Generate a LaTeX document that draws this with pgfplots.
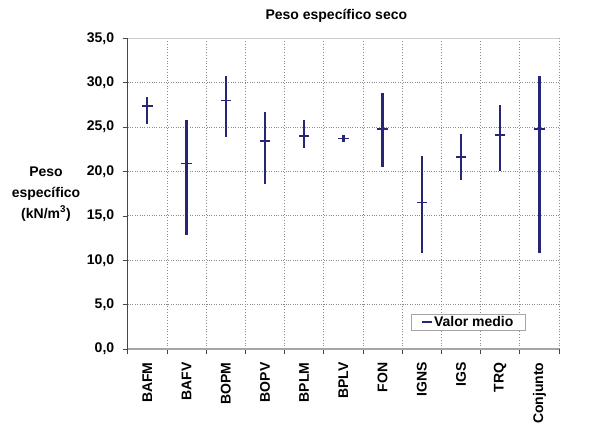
\documentclass[border=0pt]{standalone}
\usepackage{fontspec}
\setmainfont{Liberation Sans}
\usepackage{pgfplots}
\pgfplotsset{compat=1.18}
\usepackage{pgfplotstable}

\definecolor{rango}{RGB}{38,38,118}
\definecolor{rejilla}{RGB}{140,140,140}
\definecolor{borde}{RGB}{205,205,205}
\definecolor{ejex}{RGB}{165,165,165}
\definecolor{ejey}{RGB}{70,70,70}

% Dry unit weight per unit: minimum, mean and maximum (kN/m^3)
\pgfplotstableread{
x  grupo    min    media  max
0  BAFM     25.4   27.4   28.4
1  BAFV     12.8   20.9   25.8
2  BOPM     23.9   28.0   30.7
3  BOPV     18.6   23.4   26.7
4  BPLM     22.6   24.0   25.8
5  BPLV     23.3   23.7   24.1
6  FON      20.5   24.8   28.8
7  IGNS     10.8   16.5   21.7
8  IGS      19.0   21.6   24.2
9  TRQ      20.0   24.1   27.5
10 Conjunto 10.8   24.8   30.7
}\datos

\newcommand{\letra}{\fontsize{14bp}{17bp}\selectfont\bfseries}

\begin{document}
\begin{tikzpicture}
\useasboundingbox (-127.7bp,-82bp) rectangle (465.3bp,349bp);
\begin{axis}[
  at={(0,0)}, anchor=south west,
  scale only axis, width=431.3bp, height=310.7bp,
  xmin=-0.5, xmax=10.5, ymin=0, ymax=35,
  separate axis lines,
  axis x line*=bottom, axis y line*=left,
  x axis line style={ejex, line width=1.6bp, -},
  y axis line style={ejey, line width=0.8bp, -},
  xtick={0,...,10},
  xticklabels={BAFM,BAFV,BOPM,BOPV,BPLM,BPLV,FON,IGNS,IGS,TRQ,Conjunto},
  minor xtick={-0.5,0.5,...,10.5},
  ytick={0,5,...,35},
  tick align=outside,
  major tick length=5bp, minor tick length=5bp,
  major x tick style={draw=none},
  minor x tick style={ejey, line width=0.6bp},
  major y tick style={ejey, line width=0.6bp},
  xmajorgrids=false, xminorgrids=true, ymajorgrids=true,
  grid style={dotted, rejilla, line width=0.8bp},
  minor grid style={dotted, rejilla, line width=0.8bp},
  /pgf/number format/assume math mode=true,
  yticklabel style={/pgf/number format/fixed, /pgf/number format/fixed zerofill,
    /pgf/number format/precision=1, /pgf/number format/use comma,
    /pgf/number format/1000 sep={}, font=\letra, xshift=-5bp},
  xticklabel style={font=\letra, yshift=-5bp, rotate=90, anchor=east},
  title={Peso específico seco},
  title style={font=\letra, at={(axis description cs:0.5,1)}, anchor=base, yshift=13.3bp, xshift=-7bp},
  ylabel={Peso\\específico\\(kN/m\textsuperscript{3})},
  ylabel style={font=\fontsize{14bp}{21bp}\selectfont\bfseries, at={(axis description cs:0,0.5)}, rotate=-90, anchor=center, xshift=-81.7bp, align=center},
  legend style={at={(axis description cs:0.923,0.058)}, anchor=south east, draw=ejex, line width=0.8bp, font=\letra, inner xsep=10bp, inner ysep=0.5bp, fill=white},
  legend image code/.code={\draw[#1, mark repeat=2, mark phase=2] plot coordinates {(0cm,0cm) (0.25cm,0cm) (0.5cm,0cm)};},
  legend cell align=left,
]
\addplot[only marks, mark=-, mark size=5.2bp, rango, mark options={line width=1.7bp},
  error bars/.cd, y dir=both, y explicit, error mark=none,
  error bar style={line width=2.3bp, rango}]
  table[x=x, y=media,
        y error plus expr=\thisrow{max}-\thisrow{media},
        y error minus expr=\thisrow{media}-\thisrow{min}]{\datos};
\addlegendentry{Valor medio}
\draw[borde, line width=1bp] (rel axis cs:0,1) -- (rel axis cs:1,1) -- (rel axis cs:1,0);
\end{axis}
\end{tikzpicture}
\end{document}
